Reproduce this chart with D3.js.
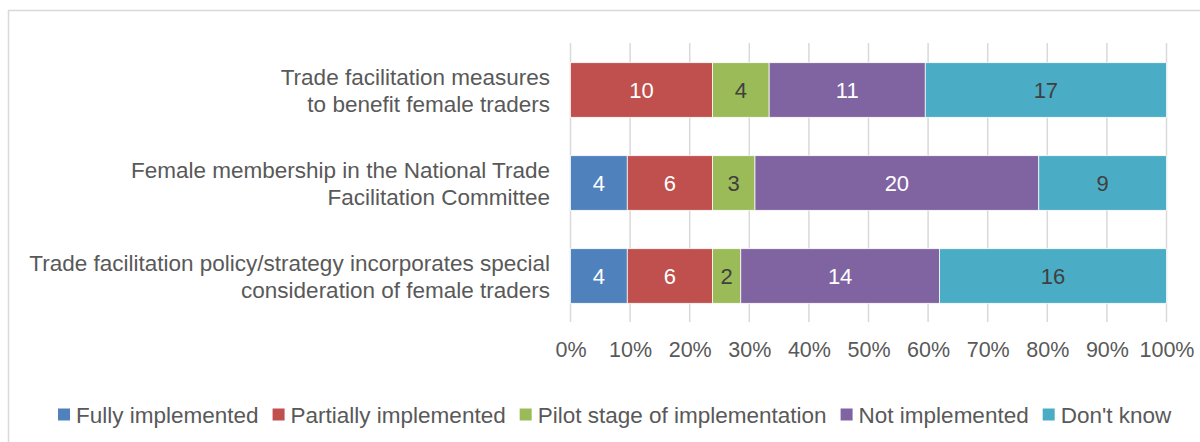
<!DOCTYPE html>
<html>
<head>
<meta charset="utf-8">
<script src="https://cdn.jsdelivr.net/npm/d3@7"></script>
<style>
  body { margin: 0; background: #fff; }
  svg { display: block; font-family: "Liberation Sans", Arial, sans-serif; }
</style>
</head>
<body>
<svg id="chart" width="1200" height="442"></svg>
<script>
// categories, top to bottom (each entry is split into lines)
const categories = [
  ["Trade facilitation measures", "to benefit female traders"],
  ["Female membership in the National Trade", "Facilitation Committee"],
  ["Trade facilitation policy/strategy incorporates special", "consideration of female traders"]
];
const seriesNames = ["Fully implemented", "Partially implemented", "Pilot stage of implementation", "Not implemented", "Don't know"];
const fullyImpl   = [0, 4, 4];
const partialImpl = [10, 6, 6];
const pilotStage  = [4, 3, 2];
const notImpl     = [11, 20, 14];
const dontKnow    = [17, 9, 16];
const tickValues  = [0, 0.1, 0.2, 0.3, 0.4, 0.5, 0.6, 0.7, 0.8, 0.9, 1];

const colors = ["#4f81bd", "#c0504d", "#9bbb59", "#8064a2", "#4bacc6"];
const labelColors = ["#ffffff", "#ffffff", "#404040", "#ffffff", "#404040"];

const svg = d3.select("#chart");

// outer chart frame
svg.append("rect")
  .attr("x", 8.5).attr("y", 10.5)
  .attr("width", 1200).attr("height", 440)
  .attr("fill", "none").attr("stroke", "#d9d9d9").attr("stroke-width", 1.5);

const x = d3.scaleLinear().domain([0, 1]).range([570.5, 1166.5]);
const y = d3.scaleBand().domain(d3.range(categories.length))
  .range([43.5, 322.5]).paddingInner(0.413).paddingOuter(0.2065);

// gridlines
svg.append("g").selectAll("line")
  .data(tickValues)
  .join("line")
  .attr("x1", d => x(d)).attr("x2", d => x(d))
  .attr("y1", 43).attr("y2", 322)
  .attr("stroke", "#d9d9d9").attr("stroke-width", 1.5);

// x axis labels
const xAxis = d3.axisBottom(x).tickValues(tickValues).tickFormat(d3.format(".0%")).tickSize(0);
const ax = svg.append("g").attr("transform", "translate(0,340)").call(xAxis);
ax.select(".domain").remove();
ax.selectAll("text")
  .attr("dy", 0).attr("y", 17)
  .attr("font-size", 21.5).attr("fill", "#595959")
  .attr("font-family", "Liberation Sans, Arial, sans-serif");

// stacked data
const rows = categories.map((c, i) => {
  const vals = [fullyImpl[i], partialImpl[i], pilotStage[i], notImpl[i], dontKnow[i]];
  const total = d3.sum(vals);
  let acc = 0;
  return vals.map((v, k) => {
    const seg = { row: i, k, v, x0: acc / total, x1: (acc + v) / total };
    acc += v;
    return seg;
  });
});
const segs = rows.flat().filter(d => d.v > 0);

svg.append("g").selectAll("rect")
  .data(segs)
  .join("rect")
  .attr("x", d => x(d.x0))
  .attr("y", d => y(d.row))
  .attr("width", d => x(d.x1) - x(d.x0))
  .attr("height", y.bandwidth())
  .attr("fill", d => colors[d.k])
  .attr("stroke", "#ffffff").attr("stroke-width", 0.75);

svg.append("g").selectAll("text")
  .data(segs)
  .join("text")
  .attr("x", d => (x(d.x0) + x(d.x1)) / 2)
  .attr("y", d => y(d.row) + y.bandwidth() / 2)
  .attr("dy", "0.36em")
  .attr("text-anchor", "middle")
  .attr("font-size", 22)
  .attr("fill", d => labelColors[d.k])
  .text(d => d.v);

// category labels
const catG = svg.append("g").selectAll("text")
  .data(categories)
  .join("text")
  .attr("text-anchor", "end")
  .attr("font-size", 22.5)
  .attr("fill", "#595959");
catG.each(function(lines, i) {
  const cy = y(i) + y.bandwidth() / 2;
  d3.select(this).selectAll("tspan")
    .data(lines)
    .join("tspan")
    .attr("x", 550)
    .attr("y", (d, j) => cy + (j - (lines.length - 1) / 2) * 27)
    .attr("dy", "0.36em")
    .text(d => d);
});

// legend
const legend = svg.append("g");
const items = legend.selectAll("g").data(seriesNames).join("g");
items.append("rect")
  .attr("width", 12).attr("height", 12)
  .attr("y", 408.5)
  .attr("fill", (d, i) => colors[i]);
items.append("text")
  .attr("x", 18).attr("y", 423)
  .attr("font-size", 22.5).attr("fill", "#595959")
  .text(d => d);
let lx = 58;
const offsets = [];
items.each(function() {
  const w = d3.select(this).select("text").node().getComputedTextLength();
  offsets.push(lx);
  lx += 18 + w + 14;
});
items.attr("transform", (d, i) => `translate(${offsets[i]},0)`);
</script>
</body>
</html>
